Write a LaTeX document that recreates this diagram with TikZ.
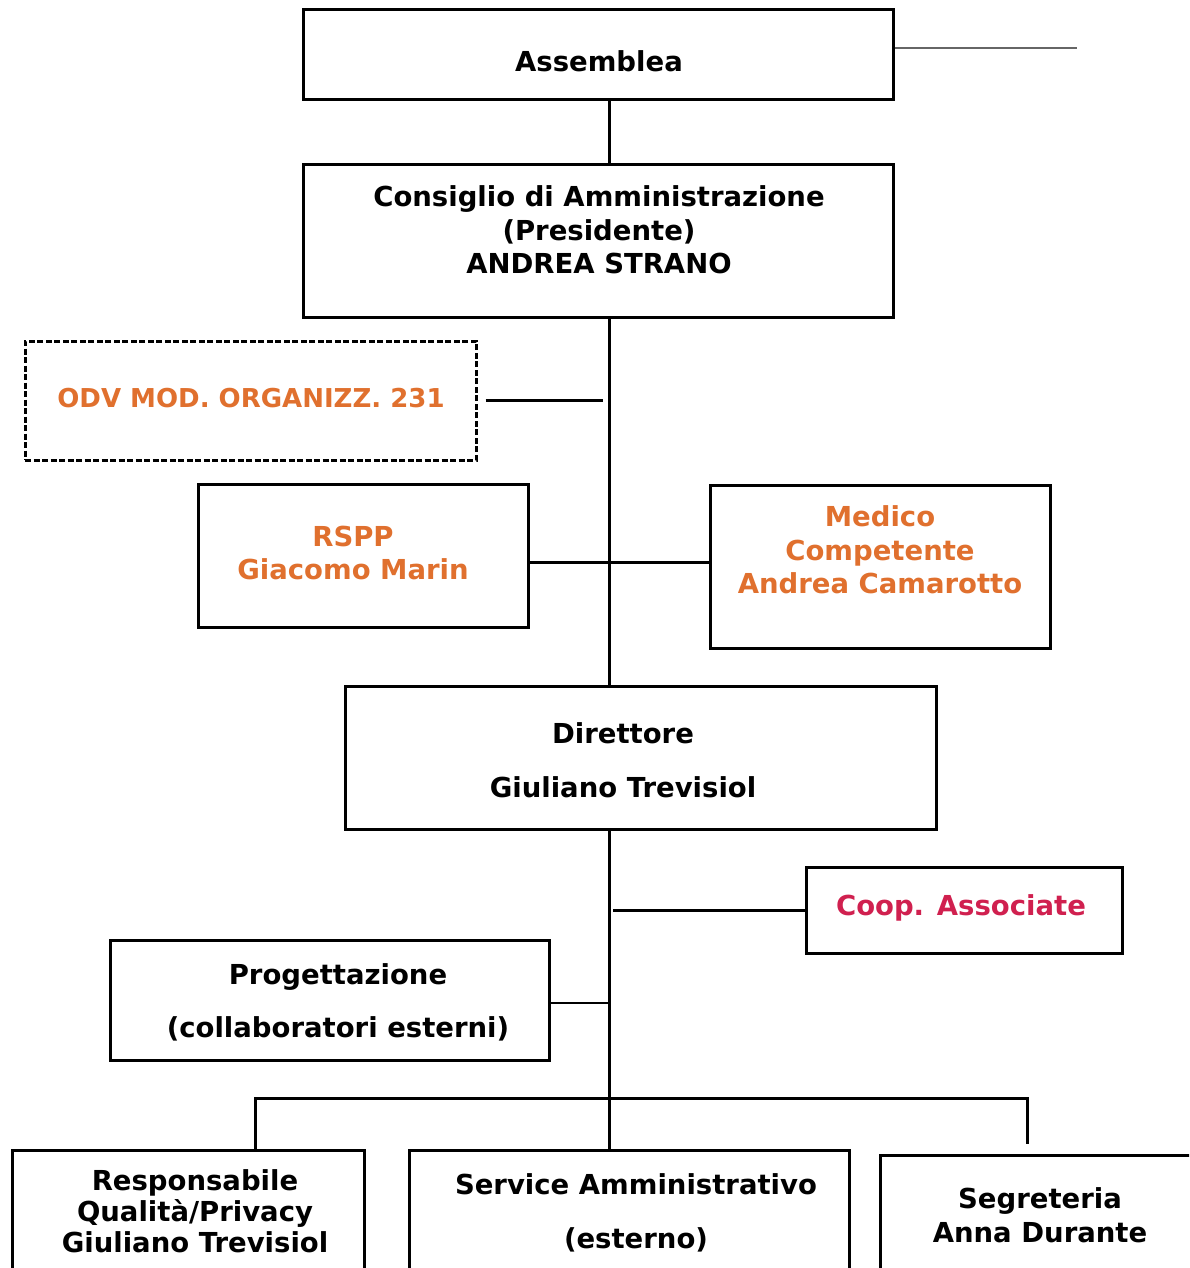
\documentclass[tikz,border=0pt]{standalone}
\usepackage{fontspec}
\setmainfont{DejaVu Sans}
\definecolor{orgtxt}{HTML}{E0702E}
\definecolor{cooptxt}{HTML}{D0204F}
\begin{document}
\begin{tikzpicture}[x=1pt,y=-1pt,
  box/.style={draw=black,line width=3pt,rectangle,inner sep=0pt},
  dbox/.style={draw=black,line width=3pt,rectangle,inner sep=0pt,dash pattern=on 6pt off 2.5pt},
  txt/.style={font=\fontsize{27.5}{33.5}\selectfont\bfseries,align=center,inner sep=0pt},
  conn/.style={draw=black,line width=3pt},
  thin/.style={draw=black,line width=2pt}]
\useasboundingbox (0,0) rectangle (1189,1268);
\clip (0,0) rectangle (1189,1268);
% boxes
\node[box,minimum width=590pt,minimum height=90pt] (ass) at (598,55) {};
\node[box,minimum width=590pt,minimum height=152pt] (cda) at (598,241) {};
\node[dbox,minimum width=451pt,minimum height=119pt] (odv) at (250.5,400.5) {};
\node[box,minimum width=330pt,minimum height=143pt] (rspp) at (363,555.5) {};
\node[box,minimum width=340pt,minimum height=163pt] (med) at (880,566.5) {};
\node[box,minimum width=591pt,minimum height=143pt] (dir) at (640.5,757.5) {};
\node[box,minimum width=316pt,minimum height=86pt] (coop) at (964,910) {};
\node[box,minimum width=439pt,minimum height=120pt] (prog) at (329.5,1000) {};
\node[box,minimum width=352pt,minimum height=150pt] (resp) at (188,1225) {};
\node[box,minimum width=440pt,minimum height=150pt] (serv) at (629,1225) {};
\node[box,minimum width=320pt,minimum height=145pt] (seg) at (1040,1227.5) {};
% texts
\node[txt] (assT) at (599,61) {Assemblea};
\node[txt] (cdaT) at (599,230) {Consiglio di Amministrazione\\(Presidente)\\ANDREA STRANO};
\node[txt,text=orgtxt,font=\fontsize{26}{33.5}\selectfont\bfseries] (odvT) at (251,398) {ODV MOD. ORGANIZZ. 231};
\node[txt,text=orgtxt] (rsppT) at (353,553) {RSPP\\Giacomo Marin};
\node[txt,text=orgtxt] (medT) at (880,550) {Medico\\Competente\\Andrea Camarotto};
\node[txt,font=\fontsize{27.5}{54}\selectfont\bfseries] (dirT) at (623,760) {Direttore\\Giuliano Trevisiol};
\node[txt,text=cooptxt] (coopT) at (961,908) {Coop. Associate};
\node[txt,font=\fontsize{27.5}{53}\selectfont\bfseries] (progT) at (338,1002) {Progettazione\\(collaboratori esterni)};
\node[txt,font=\fontsize{27.5}{31}\selectfont\bfseries] (respT) at (195,1211) {Responsabile\\Qualità/Privacy\\Giuliano Trevisiol};
\node[txt,font=\fontsize{27.5}{54}\selectfont\bfseries] (servT) at (636,1213) {Service Amministrativo\\(esterno)};
\node[txt] (segT) at (1040,1215) {Segreteria\\Anna Durante};
% connectors
\coordinate (sx) at (609,0);
\draw[conn] (ass.south -| sx) -- (cda.north -| sx);
\draw[conn] (cda.south -| sx) -- (dir.north -| sx);
\draw[conn] (dir.south -| sx) -- (serv.north -| sx);
\coordinate (aend) at (1077,48);
\draw[draw=gray!80!black,line width=1.6pt] (ass.east |- aend) -- (aend);
\draw[conn] ([xshift=8pt]odv.east) -- ([xshift=-6pt]odv.east -| sx);
\draw[conn] ([yshift=-6.5pt]rspp.east) coordinate (rm) -- (rm -| med.west);
\draw[conn] ([xshift=4pt]coop.west -| sx) -- (coop.west);
\draw[thin] ([yshift=-3pt]prog.east) coordinate (pe) -- (pe -| sx);
\coordinate (rdrop) at (255,1098);
\coordinate (sdrop) at (1027,1098);
\draw[conn] (rdrop |- resp.north) -- (rdrop) -- (sdrop) -- ([yshift=10pt]sdrop |- seg.north);
\end{tikzpicture}
\end{document}
